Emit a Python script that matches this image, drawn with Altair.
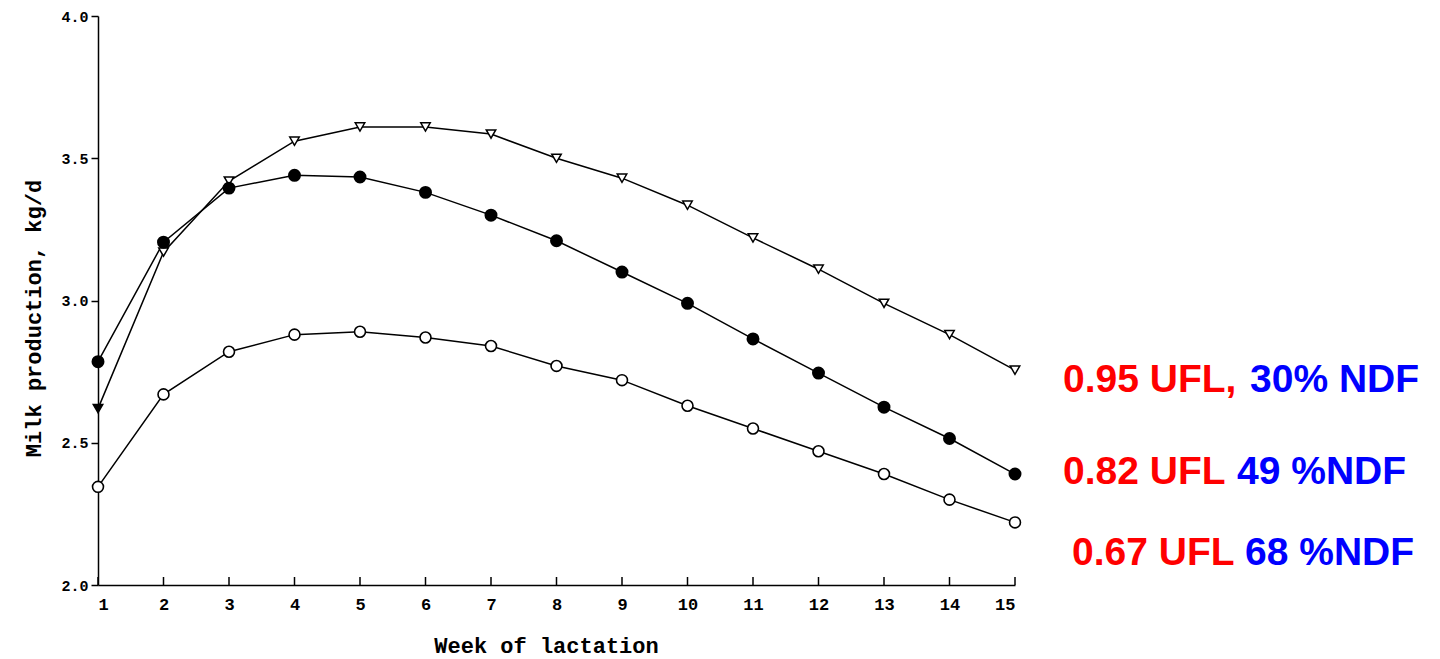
import altair as alt
import pandas as pd

weeks = list(range(1, 16))
high_energy = [2.62, 3.17, 3.42, 3.56, 3.61, 3.61, 3.585, 3.50, 3.43, 3.335, 3.22, 3.11, 2.99, 2.88, 2.755]
mid_energy = [2.785, 3.205, 3.395, 3.44, 3.434, 3.38, 3.30, 3.21, 3.10, 2.99, 2.865, 2.745, 2.625, 2.515, 2.39]
low_energy = [2.345, 2.67, 2.82, 2.88, 2.89, 2.87, 2.84, 2.77, 2.72, 2.63, 2.55, 2.47, 2.39, 2.30, 2.22]
series_names = ["0.95 UFL", "0.82 UFL", "0.67 UFL"]
label_red = ["0.95 UFL,", "0.82 UFL", "0.67 UFL"]
label_blue = ["30% NDF", "49 %NDF", "68 %NDF"]
y_ticks = [2.0, 2.5, 3.0, 3.5, 4.0]

rows = []
for name, vals in zip(series_names, [high_energy, mid_energy, low_energy]):
    for w, v in zip(weeks, vals):
        rows.append({"series": name, "week": w, "milk": v})
df = pd.DataFrame(rows)
wk = pd.DataFrame({"week": weeks})

FONT = "Liberation Mono"
xscale = alt.Scale(domain=[1, 15], nice=False, zero=False)
yscale = alt.Scale(domain=[2.0, 4.0], nice=False, zero=False)

x_enc = alt.X("week:Q", scale=xscale, axis=alt.Axis(
    values=weeks, format="d", title="Week of lactation", grid=False,
    tickSize=0, labelPadding=11, labelFont=FONT, labelFontWeight="bold",
    labelFontSize=17, labelColor="black", titleFont=FONT, titleFontWeight="bold",
    titleFontSize=22, titleColor="black", titleX=448, titleY=60,
    titleBaseline="middle", titleAlign="center",
    domainColor="black", domainWidth=1.5))
y_enc = alt.Y("milk:Q", scale=yscale, axis=alt.Axis(
    values=y_ticks, format=".1f", title="Milk production, kg/d", grid=False,
    tickSize=7, tickColor="black", tickWidth=1.5, labelPadding=3, labelFont=FONT,
    labelFontWeight="bold", labelFontSize=15, labelColor="black",
    titleFont=FONT, titleFontWeight="bold", titleFontSize=22, titleColor="black",
    titleX=-65, titleY=302, titleBaseline="middle", titleAlign="center",
    domainColor="black", domainWidth=1.5))

lines = alt.Chart(df).mark_line(color="black", strokeWidth=1.5).encode(
    x=x_enc, y=y_enc, detail="series:N")

tri = alt.Chart(df[df.series == series_names[0]]).mark_point(
    shape="triangle-down", size=90, stroke="black", strokeWidth=1.5, opacity=1).encode(
    x=alt.X("week:Q", scale=xscale), y=alt.Y("milk:Q", scale=yscale),
    fill=alt.condition("datum.week == 1", alt.value("black"), alt.value("white")))

filled = alt.Chart(df[df.series == series_names[1]]).mark_point(
    shape="circle", size=120, stroke="black", fill="black", filled=True, opacity=1).encode(
    x=alt.X("week:Q", scale=xscale), y=alt.Y("milk:Q", scale=yscale))

opened = alt.Chart(df[df.series == series_names[2]]).mark_point(
    shape="circle", size=120, stroke="black", strokeWidth=1.6, fill="white", opacity=1).encode(
    x=alt.X("week:Q", scale=xscale), y=alt.Y("milk:Q", scale=yscale))

xticks = alt.Chart(wk).mark_rule(color="black", strokeWidth=1.5).encode(
    x=alt.X("week:Q", scale=xscale), y=alt.value(569), y2=alt.value(561))

label_pos = [(364, 965, 1152), (456, 965, 1139), (537, 974, 1147)]
texts = []
for (yy, xr, xb), r, b in zip(label_pos, label_red, label_blue):
    one = pd.DataFrame({"r": [r], "b": [b]})
    texts.append(alt.Chart(one).mark_text(
        font="Liberation Sans", fontWeight="bold", fontSize=39, color="#ff0000",
        align="left", baseline="middle").encode(
        text="r:N", x=alt.value(xr), y=alt.value(yy)))
    texts.append(alt.Chart(one).mark_text(
        font="Liberation Sans", fontWeight="bold", fontSize=39, color="#0000ff",
        align="left", baseline="middle").encode(
        text="b:N", x=alt.value(xb), y=alt.value(yy)))

chart = alt.layer(lines, xticks, tri, filled, opened, *texts).properties(
    width=917, height=569,
    padding={"left": 98, "top": 16, "right": 425, "bottom": 74},
    autosize=alt.AutoSizeParams(type="none"),
    background="white",
).configure_view(stroke=None)

chart.save("out.html", embed_options={"renderer": "svg", "actions": False})
